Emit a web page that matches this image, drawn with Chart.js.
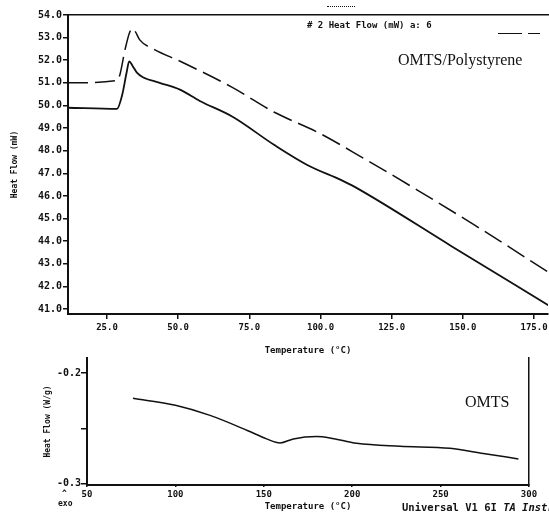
<!DOCTYPE html>
<html lang="en">
<head>
<meta charset="UTF-8">
<title>DSC - OMTS/Polystyrene</title>
<style>
  body {
    margin: 0;
    background: #fff;
    width: 549px;
    height: 515px;
    overflow: hidden;
    position: relative;
    font-family: "DejaVu Sans Mono", monospace;
  }
  canvas { position: absolute; left: 0; }
  #topChart { top: 0; }
  #bottomChart { top: 340px; }
  .note { position: absolute; white-space: nowrap; color: #111; }
  .serif { font-family: "Liberation Serif", "DejaVu Serif", serif; font-size: 16px; line-height: 18px; }
  .plot { font-weight: bold; font-size: 9px; line-height: 10px; }
  .dash { position: absolute; height: 0; border-top: 1.5px solid #111; }
</style>
<script src="https://cdn.jsdelivr.net/npm/chart.js"></script>
</head>
<body>
<canvas id="topChart" width="549" height="362"></canvas>
<canvas id="bottomChart" width="549" height="175"></canvas>

<!-- header text and legend mark of the upper plot -->
<div class="dash" style="left:327px; top:6px; width:28px; border-top:1px dotted #111;"></div>
<div class="note plot" style="left:307px; top:20px;"># 2 Heat Flow (mW) a: 6</div>
<div class="dash" style="left:498px; top:33px; width:24px;"></div>
<div class="dash" style="left:528px; top:33px; width:12px;"></div>
<div class="note serif" style="left:398px; top:51px;">OMTS/Polystyrene</div>

<!-- lower plot notes -->
<div class="note serif" style="left:465px; top:393px;">OMTS</div>
<div class="note plot" style="left:62px; top:489px; font-size:8px;">^</div>
<div class="note plot" style="left:58px; top:499px; font-size:8px;">exo</div>
<div class="note plot" style="left:402px; top:501px; font-size:10.5px; line-height:12px;">Universal V1 6I <i>TA Instr</i></div>

<script>
  // Upper plot: heat flow (mW) vs temperature (°C)
  const solidTemp = [11.3, 28.5, 30.3, 31.8, 32.8, 34.0, 35.5, 37.6, 43.5, 50.6, 57.6, 69.1, 83.8, 95.5, 107.3, 112.0, 146.0, 180.0];
  const solidFlow = [49.9, 49.85, 50.45, 51.4, 51.95, 51.75, 51.45, 51.25, 51.0, 50.7, 50.2, 49.5, 48.25, 47.36, 46.7, 46.4, 43.78, 41.17];

  const dashTemp = [11.3, 28.5, 29.5, 31.3, 33.0, 34.0, 35.0, 36.5, 41.3, 51.6, 69.0, 83.8, 98.9, 114.4, 134.0, 154.0, 180.0];
  const dashFlow = [51.0, 51.1, 51.35, 52.45, 53.25, 53.4, 53.25, 52.9, 52.5, 51.9, 50.8, 49.7, 48.82, 47.72, 46.26, 44.72, 42.63];

  const topXTicks = [25, 50, 75, 100, 125, 150, 175];
  const topYTicks = [41, 42, 43, 44, 45, 46, 47, 48, 49, 50, 51, 52, 53, 54];

  // Lower plot: OMTS heat flow (W/g)
  const omtsTemp = [76, 100, 119.6, 141, 151.6, 159.2, 166.7, 179.9, 187.4, 202.5, 227, 255.3, 274.1, 294];
  const omtsFlow = [-0.2227, -0.2291, -0.2382, -0.252, -0.2594, -0.2630, -0.2594, -0.2573, -0.2585, -0.2634, -0.2661, -0.2679, -0.2725, -0.2775];

  const bottomXTicks = [50, 100, 150, 200, 250, 300];
  const bottomYTicks = [-0.3, -0.25, -0.2];

  const ink = '#111';
  Chart.defaults.font.family = '"DejaVu Sans Mono", monospace';
  Chart.defaults.font.weight = 'bold';
  Chart.defaults.color = ink;

  const toPoints = (xs, ys) => xs.map((x, i) => ({ x: x, y: ys[i] }));

  // helper: fixed axis box sizes so the plot area lands where the original is
  function fixWidth(w) {
    return s => { s.width = w; s.paddingTop = 0; s.paddingBottom = 0; };
  }
  function fixHeight(h) {
    return s => { s.height = h; s.paddingLeft = 0; s.paddingRight = 0; };
  }
  function useTicks(list) {
    return s => { s.ticks = list.map(v => ({ value: v })); };
  }

  new Chart(document.getElementById('topChart'), {
    type: 'line',
    data: {
      datasets: [
        {
          label: 'Heat Flow',
          data: toPoints(solidTemp, solidFlow),
          borderColor: ink,
          borderWidth: 1.8,
          cubicInterpolationMode: 'monotone',
          pointRadius: 0
        },
        {
          label: '# 2 Heat Flow',
          data: toPoints(dashTemp, dashFlow),
          borderColor: ink,
          borderWidth: 1.5,
          borderDash: [20, 7],
          cubicInterpolationMode: 'monotone',
          pointRadius: 0
        }
      ]
    },
    options: {
      responsive: false,
      animation: false,
      layout: { padding: { left: 6, top: 15, right: 1, bottom: 0 } },
      plugins: { legend: { display: false }, tooltip: { enabled: false } },
      scales: {
        x: {
          type: 'linear',
          min: 11.3,
          max: 179.9,
          afterBuildTicks: useTicks(topXTicks),
          afterFit: fixHeight(48),
          ticks: { callback: v => v.toFixed(1), font: { size: 9 }, padding: 3, maxRotation: 0, autoSkip: false },
          grid: { drawOnChartArea: false, tickLength: 5, color: ink, lineWidth: 1.5 },
          border: { color: ink, width: 2 },
          title: { display: true, text: 'Temperature (°C)', font: { size: 9 }, padding: { top: 0, bottom: 6 } }
        },
        xTop: {
          type: 'linear',
          position: 'top',
          min: 11.3,
          max: 179.9,
          afterFit: fixHeight(0),
          ticks: { display: false },
          grid: { display: false },
          border: { color: ink, width: 1.5 }
        },
        y: {
          type: 'linear',
          min: 40.78,
          max: 54,
          afterBuildTicks: useTicks(topYTicks),
          afterFit: fixWidth(62),
          ticks: { callback: v => v.toFixed(1), font: { size: 10 }, padding: 1, autoSkip: false },
          grid: { drawOnChartArea: false, tickLength: 5, color: ink, lineWidth: 1.5 },
          border: { color: ink, width: 2 },
          title: { display: true, text: 'Heat Flow (mW)', font: { size: 8 } }
        }
      }
    }
  });

  new Chart(document.getElementById('bottomChart'), {
    type: 'line',
    data: {
      datasets: [
        {
          label: 'OMTS',
          data: toPoints(omtsTemp, omtsFlow),
          borderColor: ink,
          borderWidth: 1.5,
          cubicInterpolationMode: 'monotone',
          pointRadius: 0
        }
      ]
    },
    options: {
      responsive: false,
      animation: false,
      layout: { padding: { left: 39, top: 18, right: 20, bottom: 0 } },
      plugins: { legend: { display: false }, tooltip: { enabled: false } },
      scales: {
        x: {
          type: 'linear',
          min: 50,
          max: 300,
          afterBuildTicks: useTicks(bottomXTicks),
          afterFit: fixHeight(30),
          ticks: { font: { size: 9 }, padding: 2, maxRotation: 0, autoSkip: false },
          grid: { drawOnChartArea: false, tickLength: 2, color: ink, lineWidth: 1.5 },
          border: { color: ink, width: 2 },
          title: { display: true, text: 'Temperature (°C)', font: { size: 9 }, padding: { top: 0, bottom: 3 } }
        },
        y: {
          type: 'linear',
          min: -0.301,
          max: -0.1864,
          afterBuildTicks: useTicks(bottomYTicks),
          afterFit: fixWidth(48),
          ticks: {
            callback: v => (Math.abs(v + 0.25) < 1e-6 ? '' : v.toFixed(1)),
            font: { size: 10 },
            padding: 0,
            autoSkip: false
          },
          grid: { drawOnChartArea: false, tickLength: 6, color: ink, lineWidth: 1.5 },
          border: { color: ink, width: 2 },
          title: { display: true, text: 'Heat Flow (W/g)', font: { size: 8 } }
        },
        yRight: {
          type: 'linear',
          position: 'right',
          min: -0.301,
          max: -0.1864,
          afterFit: fixWidth(0),
          ticks: { display: false },
          grid: { display: false },
          border: { color: ink, width: 1.5 }
        }
      }
    }
  });
</script>
</body>
</html>
